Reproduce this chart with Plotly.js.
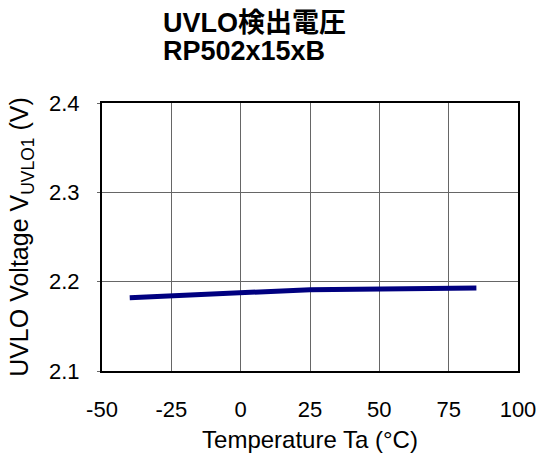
<!DOCTYPE html>
<html>
<head>
<meta charset="utf-8">
<script src="https://cdn.plot.ly/plotly-3.0.1.min.js"></script>
<style>html,body{margin:0;padding:0;background:#fff;}#chart{width:540px;height:461px;}</style>
</head>
<body>
<div id="chart"></div>
<script>
const titleLine1 = 'UVLO検出電圧';
const titleLine2 = 'RP502x15xB';
const temperature = [-40, 25, 85];
const uvloVoltage = [2.182, 2.191, 2.193];
const xTicks = [-50, -25, 0, 25, 50, 75, 100];
const yTicks = [2.1, 2.2, 2.3, 2.4];

const FONT = 'Liberation Sans, Arial, Noto Sans CJK JP, sans-serif';

Plotly.newPlot('chart', [{
  x: temperature,
  y: uvloVoltage,
  mode: 'lines',
  line: {color: '#000080', width: 5},
  showlegend: false
}], {
  width: 540, height: 461,
  margin: {l: 102, r: 22, t: 103, b: 90},
  paper_bgcolor: '#fff', plot_bgcolor: '#fff',
  font: {family: FONT, color: '#000'},
  title: {
    text: '<b>' + titleLine1 + '</b>',
    font: {family: FONT, size: 27, color: '#000'},
    x: 163/540, xref: 'container', xanchor: 'left',
    y: 1 - 23/461, yref: 'container', yanchor: 'middle'
  },
  annotations: [{
    text: '<b>' + titleLine2 + '</b>',
    font: {family: FONT, size: 27, color: '#000'},
    xref: 'paper', yref: 'paper',
    x: (161-102)/416, xanchor: 'left',
    y: (371-51)/268, yanchor: 'middle',
    showarrow: false
  }],
  xaxis: {
    range: [-50, 100], tickvals: xTicks, ticktext: xTicks.map(String),
    showgrid: true, gridcolor: '#666', gridwidth: 1, zeroline: false,
    showline: true, linecolor: '#000', linewidth: 2, mirror: true,
    ticks: '', tickfont: {size: 22, family: FONT}, ticklabelstandoff: 18,
    title: {text: 'Temperature Ta (°C)', font: {size: 24, family: FONT}, standoff: 10}
  },
  yaxis: {
    range: [2.1, 2.4], tickvals: yTicks, ticktext: yTicks.map(v => v.toFixed(1)),
    showgrid: true, gridcolor: '#666', gridwidth: 1, zeroline: false,
    showline: true, linecolor: '#000', linewidth: 2, mirror: true,
    ticks: 'outside', ticklen: 3, tickcolor: '#666', tickfont: {size: 22, family: FONT},
    ticklabelstandoff: 13,
    title: {text: 'UVLO Voltage V<sub>UVLO1</sub> (V)', font: {size: 25, family: FONT}, standoff: 13}
  }
}, {staticPlot: true});
</script>
</body>
</html>
